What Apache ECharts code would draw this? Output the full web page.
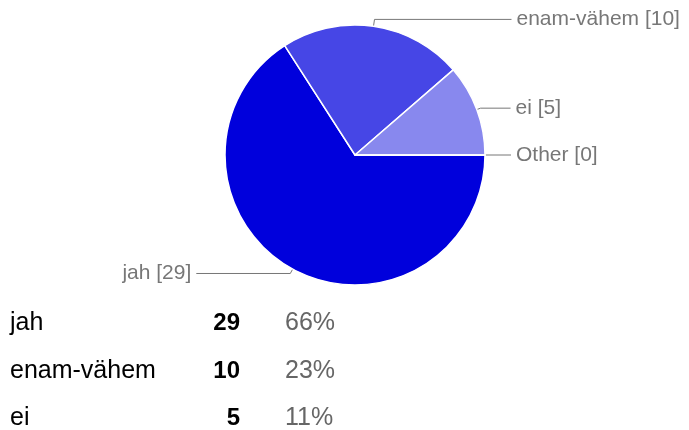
<!DOCTYPE html>
<html>
<head>
<meta charset="utf-8">
<script src="https://cdn.jsdelivr.net/npm/echarts@6/dist/echarts.min.js"></script>
<style>
  html, body { margin: 0; padding: 0; background: #fff; }
  #chart { width: 689px; height: 430px; }
</style>
</head>
<body>
<div id="chart"></div>
<script>
// answers and counts
var categories = ['jah', 'enam-vähem', 'ei', 'Other']
var counts = [29, 10, 5, 0]
var colors = ['#0000dc', '#4646e6', '#8888ee', '#c4c4f6']
// label line lengths per slice (radial, horizontal)
var lineLen = [[5, 94], [7, 137], [4, 30], [4, 22]]
// table rows (Other is not listed)
var tableRows = 3

var total = counts.reduce(function (a, b) { return a + b }, 0)

var chart = echarts.init(document.getElementById('chart'))

var pieData = categories.map(function (name, i) {
  return {
    name: name,
    value: counts[i],
    itemStyle: { color: colors[i] },
    labelLine: { length: lineLen[i][0], length2: lineLen[i][1] }
  }
})

var font = '"Liberation Sans", Arial, sans-serif'
var graphic = []
var rowY = [323, 371, 418]
for (var i = 0; i < tableRows; i++) {
  graphic.push({
    type: 'text', x: 10, y: rowY[i],
    style: { text: categories[i], font: '25px ' + font, fill: '#000', verticalAlign: 'middle' }
  })
  graphic.push({
    type: 'text', x: 240, y: rowY[i],
    style: { text: String(counts[i]), font: 'bold 24px ' + font, fill: '#000', align: 'right', verticalAlign: 'middle' }
  })
  graphic.push({
    type: 'text', x: 285, y: rowY[i],
    style: { text: Math.round(counts[i] / total * 100) + '%', font: '25px ' + font, fill: '#666', verticalAlign: 'middle' }
  })
}

chart.setOption({
  animation: false,
  series: [
    {
      type: 'pie',
      center: [355, 155],
      radius: 130,
      startAngle: 0,
      clockwise: true,
      avoidLabelOverlap: false,
      itemStyle: { borderColor: '#fff', borderWidth: 1.5 },
      label: {
        formatter: '{b} [{c}]',
        color: '#777',
        fontSize: 21,
        fontFamily: font,
        distanceToLabelLine: 5
      },
      labelLine: {
        lineStyle: { color: '#777', width: 1 }
      },
      data: pieData
    }
  ],
  graphic: graphic
})
</script>
</body>
</html>
